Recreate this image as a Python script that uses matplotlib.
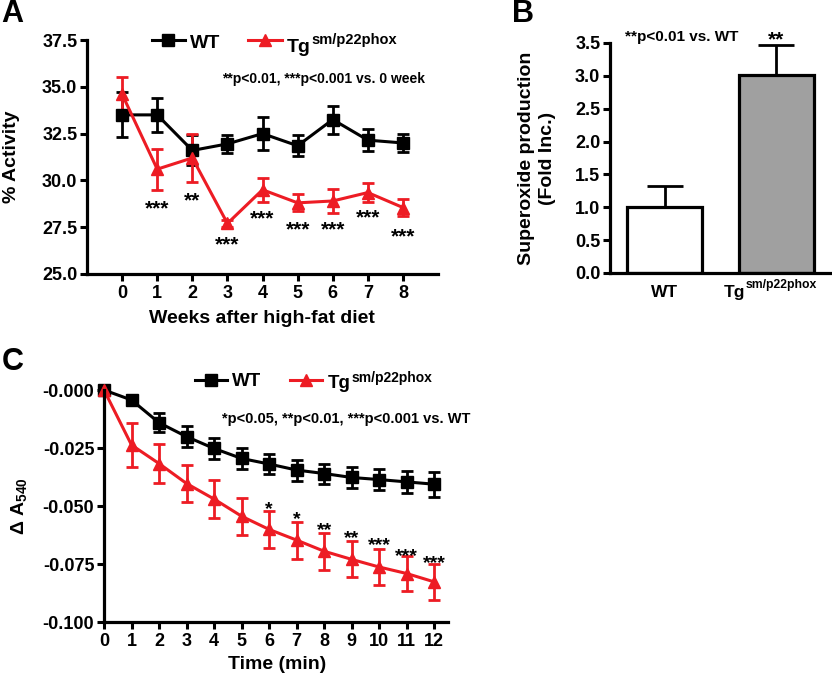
import matplotlib
matplotlib.use('Agg')
import matplotlib.pyplot as plt
from matplotlib.transforms import blended_transform_factory

plt.rcParams.update({
    'font.family': 'Liberation Sans', 'font.weight': 'bold', 'font.size': 13,
    'axes.labelweight': 'bold', 'axes.linewidth': 2.3,
    'mathtext.fontset': 'custom', 'mathtext.rm': 'Liberation Sans',
    'mathtext.bf': 'Liberation Sans:bold',
    'xtick.major.width': 2.2, 'ytick.major.width': 2.2,
    'xtick.major.size': 5, 'ytick.major.size': 5,
    'xtick.labelsize': 13, 'ytick.labelsize': 13,
    'xtick.major.pad': 3, 'ytick.major.pad': 2,
})

RED = '#ed1c24'

# --- panel A data: % activity vs weeks on high-fat diet ---
weeks = [0, 1, 2, 3, 4, 5, 6, 7, 8]
wt_act = [33.5, 33.5, 31.6, 31.95, 32.5, 31.85, 33.25, 32.15, 32.0]
wt_act_err = [1.2, 0.9, 0.8, 0.5, 0.9, 0.55, 0.75, 0.6, 0.5]
tg_act = [34.6, 30.6, 31.2, 27.7, 29.5, 28.8, 28.9, 29.35, 28.55]
tg_act_err = [0.92, 1.1, 1.3, 0.2, 0.65, 0.45, 0.65, 0.5, 0.45]
act_stars = ['', '***', '**', '***', '***', '***', '***', '***', '***']
act_star_y = [0, 28.84, 29.26, 26.9, 28.3, 27.7, 27.7, 28.35, 27.35]

# --- panel B data: superoxide production ---
groups = [0, 1]
sup = [1.0, 3.02]
sup_err = [0.32, 0.45]
sup_stars = ['', '**']
sup_star_y = [0, 3.645]

# --- panel C data: delta A540 vs time ---
minutes = list(range(13))
wt_abs = [0, -0.0043, -0.0141, -0.0201, -0.0252, -0.0295, -0.0319, -0.0345,
          -0.036, -0.0377, -0.0386, -0.0396, -0.0406]
wt_abs_err = [0, 0.001, 0.004, 0.0045, 0.0044, 0.0046, 0.0045, 0.0045,
              0.0043, 0.0044, 0.0045, 0.0049, 0.0054]
tg_abs = [0, -0.0237, -0.0317, -0.0403, -0.047, -0.0544, -0.0601, -0.0647,
          -0.0695, -0.073, -0.0763, -0.0791, -0.0827]
tg_abs_err = [0, 0.0094, 0.0083, 0.0081, 0.0083, 0.0079, 0.0079, 0.008,
              0.008, 0.0078, 0.0078, 0.0076, 0.0077]
abs_stars = ['', '', '', '', '', '', '*', '*', '**', '**', '***', '***', '***']
abs_star_y = [0, 0, 0, 0, 0, 0, -0.0486, -0.053, -0.0576, -0.0612, -0.064, -0.0688, -0.072]

fig = plt.figure(figsize=(8.32, 6.77), dpi=100)
axA = fig.add_axes([0.1046, 0.5953, 0.4219, 0.3456])
axB = fig.add_axes([0.7332, 0.5968, 0.2644, 0.3397])
axC = fig.add_axes([0.125, 0.0812, 0.4135, 0.3427])


def style(ax):
    ax.spines[['top', 'right']].set_visible(False)
    ax.tick_params(direction='out')


def stars(ax, xs, ys, labels, size):
    for x, y, s in zip(xs, ys, labels):
        if s:
            ax.annotate(s, (x, y), xytext=(0, -0.58 * size), textcoords='offset points',
                        ha='center', va='baseline', fontsize=size, fontweight='bold',
                        annotation_clip=False)


def tg(ax, x, y, trans, fs, supfs, rise):
    t = ax.text(x, y, 'Tg', transform=trans, fontsize=fs, ha='left', va='baseline',
                clip_on=False)
    ax.annotate('sm/p22phox', xy=(1, y), xycoords=(t, trans), xytext=(0.6, rise),
                textcoords='offset points', fontsize=supfs, ha='left', va='baseline',
                annotation_clip=False)


def handle(ax, x0, x1, y, color, marker):
    ax.plot([x0, x1], [y, y], transform=ax.transAxes, color=color, lw=2.2, clip_on=False)
    ax.plot([(x0 + x1) / 2], [y], transform=ax.transAxes, color=color, marker=marker,
            ms=8, clip_on=False)


# ---- A ----
ebkw = dict(lw=2.2, elinewidth=2.0, capsize=4.5, capthick=2.0, clip_on=False)
axA.errorbar(weeks, wt_act, yerr=wt_act_err, color='black', marker='s', ms=8.5, **ebkw)
axA.errorbar(weeks, tg_act, yerr=tg_act_err, color=RED, marker='^', ms=8.5, **ebkw)
stars(axA, weeks, act_star_y, act_stars, 15)
axA.set_xlim(-1, 9)
axA.set_ylim(25, 37.5)
axA.set_xticks(weeks)
axA.set_yticks([25.0, 27.5, 30.0, 32.5, 35.0, 37.5])
axA.yaxis.set_major_formatter('{x:.1f}')
axA.set_xlabel('Weeks after high-fat diet', fontsize=14)
axA.xaxis.set_label_coords(0.497, -0.155)
axA.set_ylabel('% Activity', fontsize=14)
axA.yaxis.set_label_coords(-0.19, 0.5)
axA.text(0.385, 0.833, '**p<0.01, ***p<0.001 vs. 0 week', transform=axA.transAxes,
         ha='left', va='center', fontsize=10)
handle(axA, 0.185, 0.279, 1.0, 'black', 's')
axA.text(0.293, 0.967, 'WT', transform=axA.transAxes, fontsize=14, va='baseline')
handle(axA, 0.459, 0.556, 1.0, RED, '^')
tg(axA, 0.570, 0.950, axA.transAxes, 14, 10.5, 5.3)
style(axA)
fig.text(0.002, 0.9675, 'A', fontsize=22, fontweight='bold', va='baseline')

# ---- B ----
axB.bar(groups, sup, width=0.675, color=['white', '#a0a0a0'], edgecolor='black', lw=2.3,
        zorder=2)
axB.errorbar(groups, sup, yerr=[[0, 0], sup_err], fmt='none', ecolor='black', elinewidth=2.0,
             capsize=13, capthick=2.0, zorder=1)
stars(axB, groups, sup_star_y, sup_stars, 15)
axB.text(0.07, 1.026, '**p<0.01 vs. WT', transform=axB.transAxes, ha='left', va='center',
         fontsize=11)
axB.set_xlim(-0.49, 1.48)
axB.set_ylim(0, 3.5)
axB.set_xticks(groups)
axB.set_xticklabels(['', ''])
axB.tick_params(axis='x', length=0)
tB = blended_transform_factory(axB.transData, axB.transAxes)
axB.text(0, -0.103, 'WT', transform=tB, ha='center', va='baseline', fontsize=12.5)
tg(axB, 0.524, -0.103, tB, 12.5, 8.8, 6.5)
axB.set_yticks([0, 0.5, 1.0, 1.5, 2.0, 2.5, 3.0, 3.5])
axB.yaxis.set_major_formatter('{x:.1f}')
axB.set_ylabel('Superoxide production\n(Fold Inc.)', fontsize=14, linespacing=1.35)
axB.yaxis.set_label_coords(-0.245, 0.5)
style(axB)
fig.text(0.615, 0.9675, 'B', fontsize=22, fontweight='bold', va='baseline')

# ---- C ----
ebkc = dict(lw=2.2, elinewidth=2.0, capsize=4, capthick=2.0, clip_on=False)
axC.errorbar(minutes, wt_abs, yerr=wt_abs_err, color='black', marker='s', ms=8.5, **ebkc)
axC.errorbar(minutes, tg_abs, yerr=tg_abs_err, color=RED, marker='^', ms=8.5, **ebkc)
stars(axC, minutes, abs_star_y, abs_stars, 14)
axC.set_xlim(0, 12.5)
axC.set_ylim(-0.1, 0.0)
axC.set_xticks(minutes)
axC.set_yticks([-0.1, -0.075, -0.05, -0.025, 0.0])
axC.set_yticklabels(['-0.100', '-0.075', '-0.050', '-0.025', '-0.000'])
axC.set_xlabel('Time (min)', fontsize=14)
axC.xaxis.set_label_coords(0.504, -0.145)
axC.set_ylabel(r'$\Delta$ A$_{\mathbf{540}}$', fontsize=14)
axC.yaxis.set_label_coords(-0.215, 0.5)
axC.text(0.343, 0.875, '*p<0.05, **p<0.01, ***p<0.001 vs. WT', transform=axC.transAxes,
         ha='left', va='center', fontsize=10.5, clip_on=False)
handle(axC, 0.265, 0.358, 1.043, 'black', 's')
axC.text(0.372, 1.017, 'WT', transform=axC.transAxes, fontsize=13.5, va='baseline')
handle(axC, 0.541, 0.634, 1.043, RED, '^')
tg(axC, 0.651, 1.009, axC.transAxes, 13.5, 10, 4.3)
style(axC)
fig.text(0.002, 0.4535, 'C', fontsize=22, fontweight='bold', va='baseline')

fig.savefig('out.png', dpi=100, facecolor='white')
